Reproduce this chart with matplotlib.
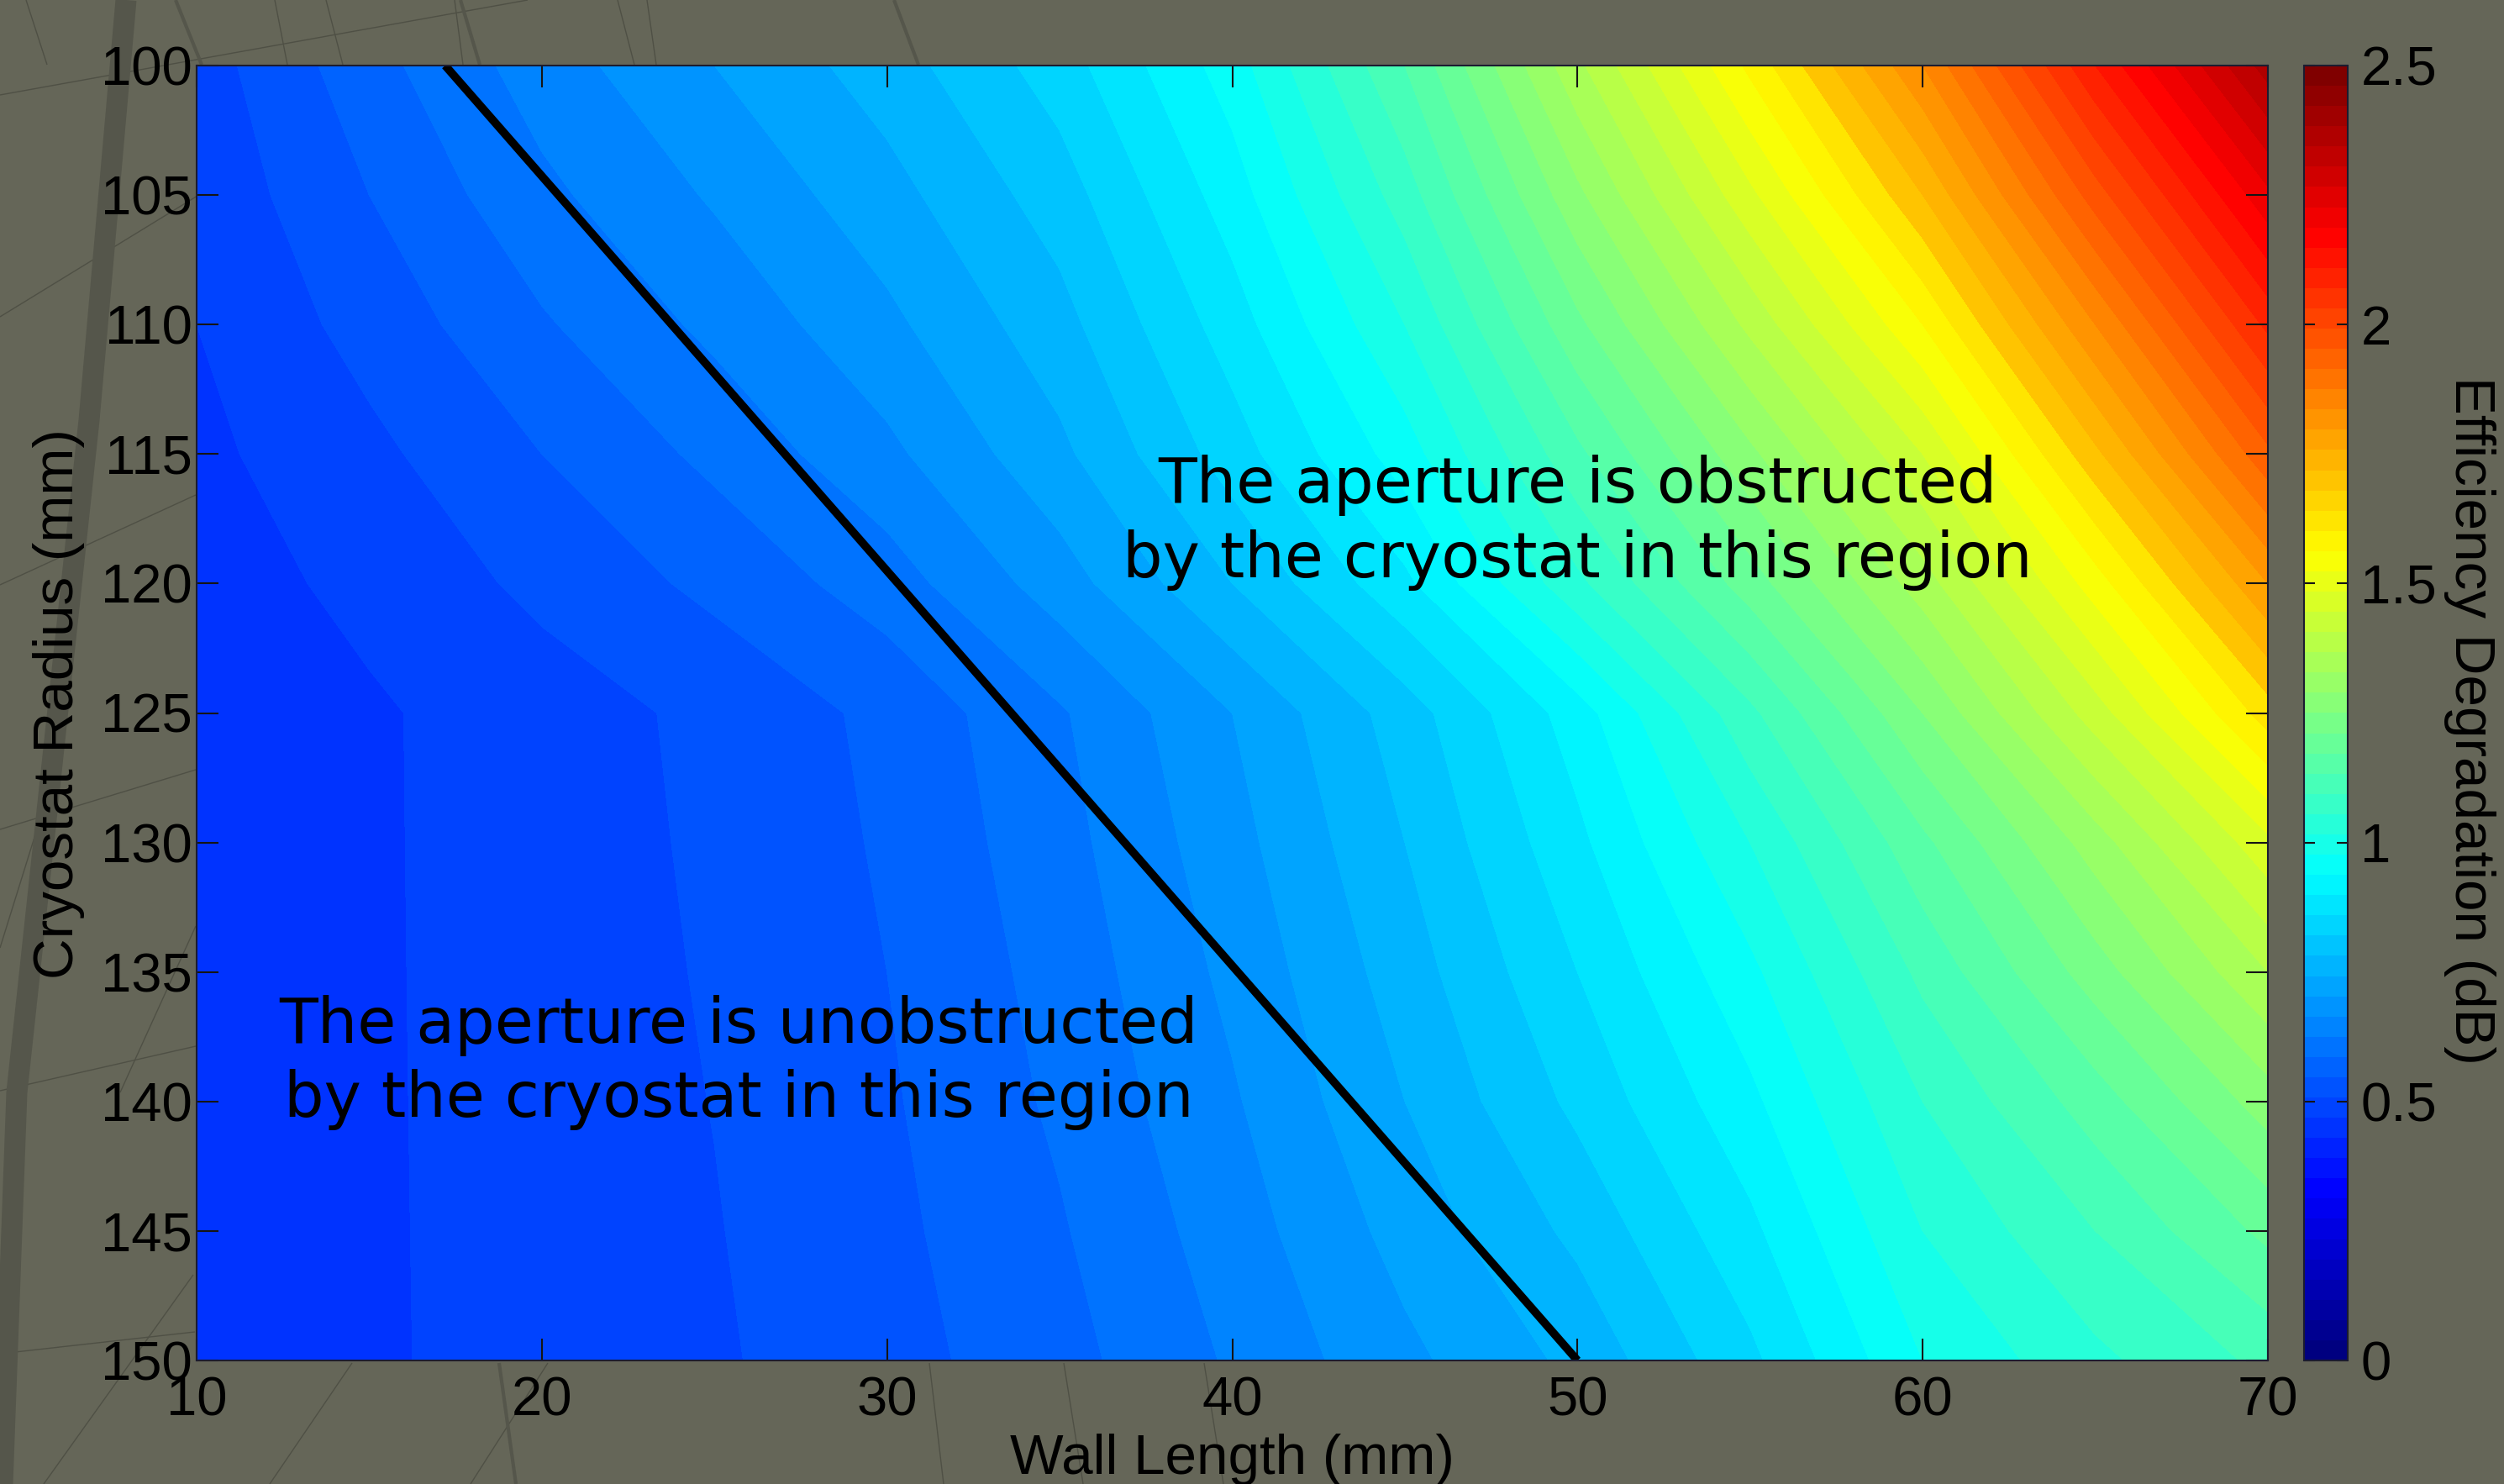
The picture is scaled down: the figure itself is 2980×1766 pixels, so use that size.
import numpy as np
import matplotlib
matplotlib.use("Agg")
import matplotlib.pyplot as plt
from matplotlib.colors import LinearSegmentedColormap, Normalize
from matplotlib.cm import ScalarMappable
from matplotlib.lines import Line2D

# ---------------- data ----------------
wall_length = [10, 15, 20, 25, 30, 35, 40, 45, 50, 55, 60, 65, 70]          # mm
cryostat_radius = [100, 105, 110, 115, 120, 125, 130, 135, 140, 145, 150]   # mm

# efficiency degradation (dB), one row per cryostat radius
deg_r100 = [0.48, 0.565, 0.64, 0.70, 0.76, 0.84, 0.96, 1.14, 1.37, 1.59, 1.82, 2.10, 2.36]
deg_r105 = [0.47, 0.54, 0.61, 0.665, 0.725, 0.80, 0.92, 1.08, 1.29, 1.49, 1.70, 1.96, 2.21]
deg_r110 = [0.46, 0.515, 0.575, 0.63, 0.69, 0.765, 0.88, 1.02, 1.21, 1.39, 1.58, 1.82, 2.07]
deg_r115 = [0.45, 0.49, 0.54, 0.59, 0.65, 0.73, 0.84, 0.96, 1.13, 1.29, 1.46, 1.69, 1.93]
deg_r120 = [0.442, 0.47, 0.51, 0.55, 0.60, 0.68, 0.78, 0.89, 1.05, 1.20, 1.36, 1.56, 1.78]
deg_r125 = [0.435, 0.455, 0.48, 0.51, 0.55, 0.615, 0.70, 0.80, 0.92, 1.09, 1.26, 1.44, 1.64]
deg_r130 = [0.436, 0.455, 0.479, 0.507, 0.545, 0.605, 0.685, 0.78, 0.89, 1.02, 1.17, 1.32, 1.49]
deg_r135 = [0.437, 0.455, 0.478, 0.504, 0.54, 0.595, 0.67, 0.76, 0.86, 0.97, 1.11, 1.24, 1.38]
deg_r140 = [0.438, 0.455, 0.477, 0.501, 0.535, 0.587, 0.655, 0.74, 0.83, 0.93, 1.06, 1.16, 1.28]
deg_r145 = [0.439, 0.455, 0.476, 0.498, 0.53, 0.576, 0.64, 0.715, 0.79, 0.89, 1.02, 1.10, 1.19]
deg_r150 = [0.44, 0.455, 0.475, 0.495, 0.525, 0.565, 0.625, 0.69, 0.75, 0.85, 0.98, 1.05, 1.11]

# boundary between obstructed / unobstructed aperture
boundary_wall = [17.2, 50.0]
boundary_radius = [100, 150]

x_ticks = [10, 20, 30, 40, 50, 60, 70]
y_ticks = [100, 105, 110, 115, 120, 125, 130, 135, 140, 145, 150]
cbar_ticks = [0, 0.5, 1, 1.5, 2, 2.5]
cbar_ticklabels = ["0", "0.5", "1", "1.5", "2", "2.5"]

# ---------------- styling ----------------
W, H = 2980, 1766
BG = "#656658"
TICK_FONT = ["Liberation Sans", "DejaVu Sans"]

jet = LinearSegmentedColormap.from_list(
    "matlab_jet",
    [(0.0, (0, 0, 0.5)), (0.125, (0, 0, 1)), (0.375, (0, 1, 1)),
     (0.625, (1, 1, 0)), (0.875, (1, 0, 0)), (1.0, (0.5, 0, 0))], N=64)
norm = Normalize(vmin=0, vmax=2.5)

fig = plt.figure(figsize=(W / 100, H / 100), dpi=100, facecolor=BG)

# faint background strokes (part of the photo backdrop)
def fig_line(pts, lw, color):
    xs = [p[0] / W for p in pts]
    ys = [1 - p[1] / H for p in pts]
    fig.add_artist(Line2D(xs, ys, transform=fig.transFigure, lw=lw, color=color,
                          solid_capstyle="butt", zorder=0))

thin_strokes = [
    [(31, 0), (56, 77)], [(327, 0), (342, 77)], [(388, 0), (408, 77)],
    [(541, 0), (551, 77)], [(735, 0), (755, 77)], [(770, 0), (781, 77)],
    [(0, 113), (628, 0)], [(0, 377), (235, 233)],
    [(0, 696), (233, 589)], [(0, 987), (233, 916)], [(0, 1298), (233, 1245)],
    [(113, 500), (80, 800), (43, 990), (0, 1128)], [(233, 1102), (143, 1300)],
    [(232, 1585), (9, 1610)], [(230, 1517), (52, 1766)], [(419, 1622), (321, 1766)],
    [(652, 1622), (560, 1766)], [(1106, 1622), (1123, 1766)],
    [(1266, 1622), (1289, 1766)], [(1433, 1622), (1456, 1766)],
]
for s in thin_strokes:
    fig_line(s, 1.0, "#4f5045")
mid_strokes = [[(209, 0), (240, 77)], [(548, 0), (571, 77)], [(1064, 0), (1093, 77)],
               [(594, 1622), (614, 1766)]]
for s in mid_strokes:
    fig_line(s, 3.0, "#55564b")
fig_line([(150, 0), (106, 500), (20, 1300), (3, 1766)], 18, "#55564b")

# ---------------- main axes ----------------
ax = fig.add_axes([234 / W, 1 - 1619 / H, 2465 / W, 1541 / H])
Z = np.array([deg_r100, deg_r105, deg_r110, deg_r115, deg_r120, deg_r125,
              deg_r130, deg_r135, deg_r140, deg_r145, deg_r150])
X, Y = np.meshgrid(wall_length, cryostat_radius)
levels = np.arange(0.42, 2.5, 0.04)
ax.contourf(X, Y, Z, levels=levels, cmap=jet, norm=norm, extend="both")

ax.plot(boundary_wall, boundary_radius, color="black", lw=7, solid_capstyle="butt")

ax.set_xlim(10, 70)
ax.set_ylim(150, 100)
ax.set_xticks(x_ticks)
ax.set_yticks(y_ticks)
ax.tick_params(direction="in", length=19, width=1.5, color="#151515",
               top=True, right=True, labelsize=47, labelcolor="black")
ax.tick_params(axis="x", pad=13)
ax.tick_params(axis="y", pad=4)
for lab in ax.get_xticklabels() + ax.get_yticklabels():
    lab.set_family(TICK_FONT)
for sp in ax.spines.values():
    sp.set_color("#1c1c30")
    sp.set_linewidth(1.5)

ax.set_xlabel("Wall Length (mm)", fontsize=48.5, family=TICK_FONT, va="top")
ax.xaxis.set_label_coords(0.5, -0.0565)
ax.set_ylabel("Cryostat Radius (mm)", fontsize=48.5, family=TICK_FONT,
              va="center", ha="center")
ax.yaxis.set_label_coords(-0.0665, 0.507)

ax.text(50.0, 117.65, "The aperture is obstructed\nby the cryostat in this region",
        ha="center", va="center", multialignment="center", fontsize=54,
        family=["DejaVu Sans"], linespacing=1.27, color="black")
ax.text(25.7, 138.5, "The aperture is unobstructed\nby the cryostat in this region",
        ha="center", va="center", multialignment="center", fontsize=54,
        family=["DejaVu Sans"], linespacing=1.27, color="black")

# ---------------- colorbar ----------------
cax = fig.add_axes([2742 / W, 1 - 1619 / H, 52 / W, 1541 / H])
cb = fig.colorbar(ScalarMappable(norm=norm, cmap=jet), cax=cax)
cb.set_ticks(cbar_ticks)
cb.set_ticklabels(cbar_ticklabels)
cb.outline.set_edgecolor("#1c1c30")
cb.outline.set_linewidth(1.5)
cax.tick_params(direction="in", length=9.5, width=1.5, color="#151515",
                left=True, right=True, labelsize=47, pad=11)
for lab in cax.get_yticklabels():
    lab.set_family(TICK_FONT)
cax.set_ylabel("Efficiency Degradation (dB)", fontsize=48.5, family=TICK_FONT,
               rotation=270, va="center", ha="center")
cax.yaxis.set_label_coords(3.79, 0.494)

fig.savefig("out.png", dpi=100, facecolor=BG)
